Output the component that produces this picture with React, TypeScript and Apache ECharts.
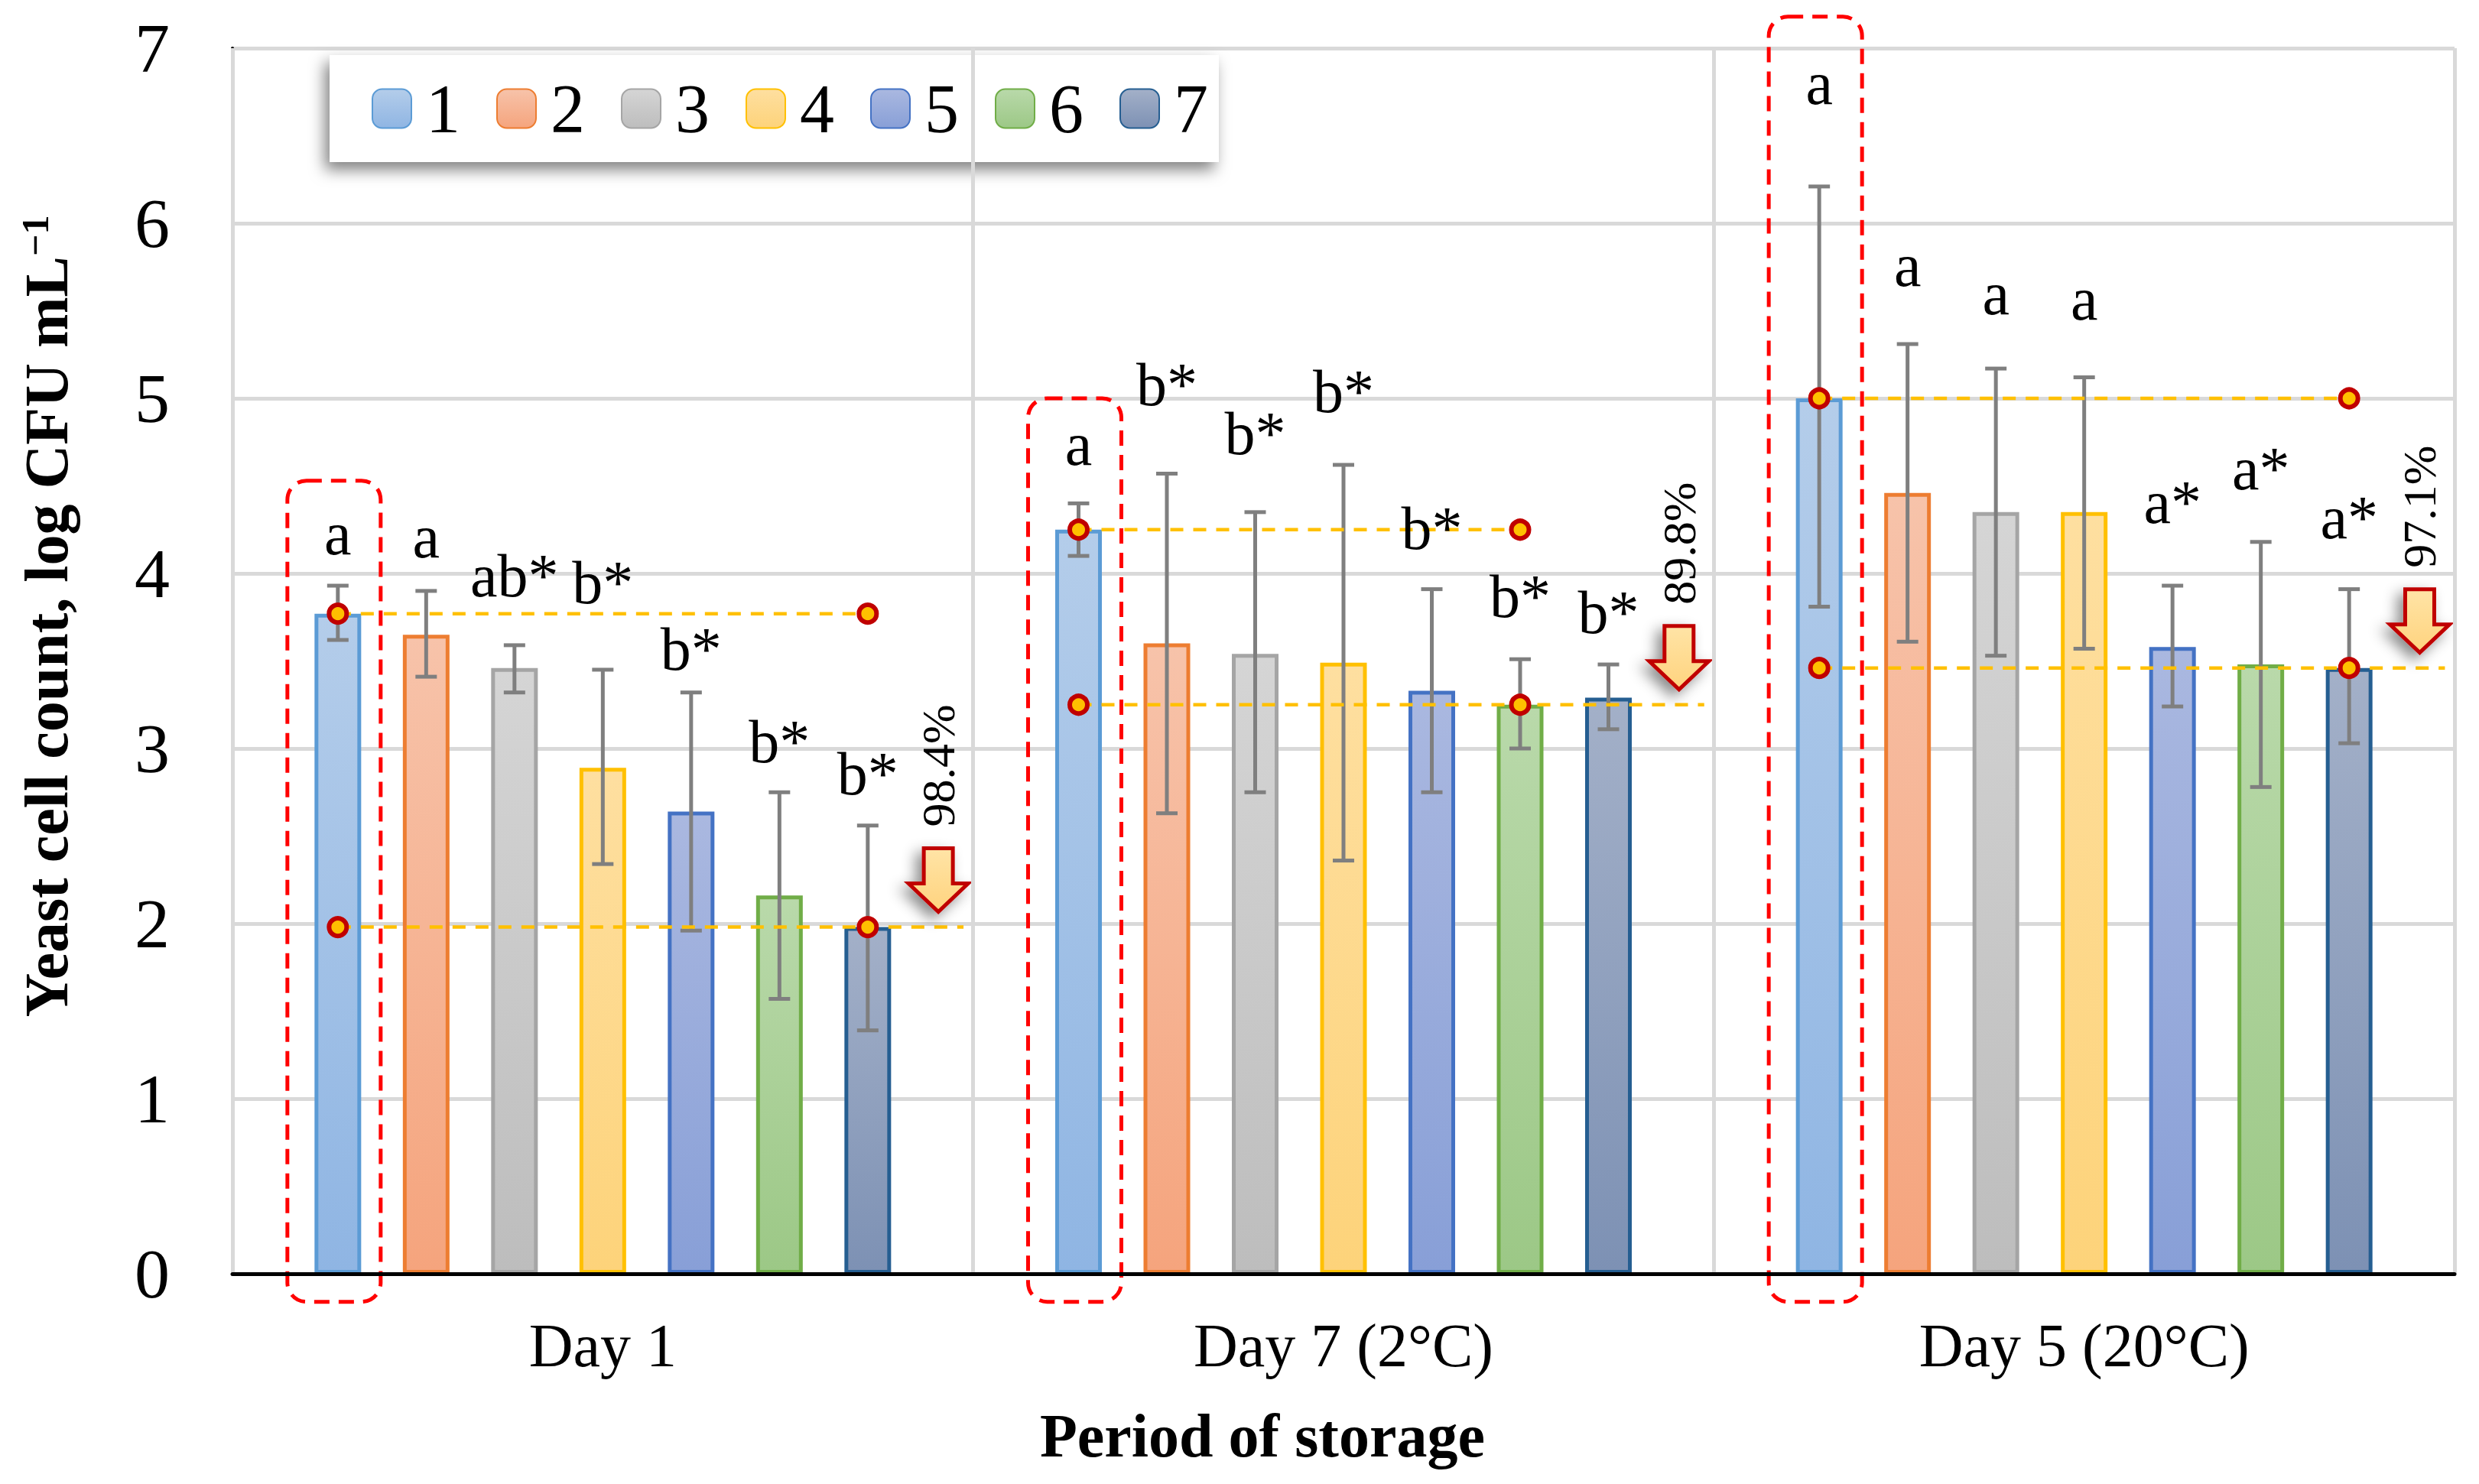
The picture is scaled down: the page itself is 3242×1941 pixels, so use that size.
import React, { useEffect, useRef } from 'react';
import * as echarts from 'echarts';

const FONT = '"Liberation Serif", "Times New Roman", serif';

// ---------- data ----------
const categories = ['Day 1', 'Day 7 (2°C)', 'Day 5 (20°C)'];
const seriesNames = ['1', '2', '3', '4', '5', '6', '7'];

// mean values per series (rows) for each category (columns)
const s1Mean = [3.77, 4.25, 5.0];
const s2Mean = [3.65, 3.6, 4.46];
const s3Mean = [3.46, 3.54, 4.35];
const s4Mean = [2.89, 3.49, 4.35];
const s5Mean = [2.64, 3.33, 3.58];
const s6Mean = [2.16, 3.25, 3.48];
const s7Mean = [1.98, 3.29, 3.46];
const means = [s1Mean, s2Mean, s3Mean, s4Mean, s5Mean, s6Mean, s7Mean];

// error bar lower / upper ends
const errLow = [
  [3.62, 4.1, 3.81],
  [3.41, 2.63, 3.61],
  [3.32, 2.75, 3.53],
  [2.34, 2.36, 3.57],
  [1.96, 2.75, 3.24],
  [1.57, 3.0, 2.78],
  [1.39, 3.11, 3.03],
];
const errHigh = [
  [3.93, 4.4, 6.21],
  [3.9, 4.57, 5.31],
  [3.59, 4.35, 5.17],
  [3.45, 4.62, 5.12],
  [3.32, 3.91, 3.93],
  [2.75, 3.51, 4.18],
  [2.56, 3.48, 3.91],
];

// significance letters and the value at which each letter's baseline sits
const letters = [
  ['a', 'a', 'a'],
  ['a', 'b*', 'a'],
  ['ab*', 'b*', 'a'],
  ['b*', 'b*', 'a'],
  ['b*', 'b*', 'a*'],
  ['b*', 'b*', 'a*'],
  ['b*', 'b*', 'a*'],
];
const letterBase = [
  [4.11, 4.62, 6.68],
  [4.09, 4.96, 5.64],
  [3.87, 4.68, 5.48],
  [3.83, 4.92, 5.45],
  [3.45, 4.14, 4.29],
  [2.92, 3.75, 4.48],
  [2.74, 3.66, 4.2],
];

// reduction labels per category
const reductionLabels = ['98.4%', '89.8%', '97.1%'];
// top of the red dashed highlight boxes around series 1 (log units)
const highlightTop = [4.53, 5.0, 7.18];
const highlightBottom = -0.16;

// ---------- styles ----------
const borderColors = ['#5B9BD5', '#ED7D31', '#A5A5A5', '#FFC000', '#4472C4', '#70AD47', '#255E91'];
const fillTop = ['#B4CDEA', '#F7C3AA', '#D5D5D5', '#FEDFA0', '#AAB8E0', '#B9D9AA', '#A3B0C8'];
const fillBottom = ['#8FB5E3', '#F5A47D', '#BDBDBD', '#FDD37A', '#889FD7', '#9CC886', '#7D91B4'];

const BAR_W = 61;
const BAR_STEP = 115.5;
const LOWER_END_FRAC = 0.487;
const ARROW_FRAC = 0.453;

function argMin(ci: number) {
  let best = 0;
  for (let i = 1; i < means.length; i++) if (means[i][ci] < means[best][ci]) best = i;
  return best;
}

export default function App() {
  const ref = useRef<HTMLDivElement>(null);

  useEffect(() => {
    const chart = echarts.init(ref.current!, null, { renderer: 'svg' });

    const barSeries = seriesNames.map((name, i) => ({
      name,
      type: 'bar',
      data: means[i],
      barWidth: BAR_W,
      barGap: `${((BAR_STEP - BAR_W) / BAR_W) * 100}%`,
      z: 2,
      itemStyle: {
        color: new echarts.graphic.LinearGradient(0, 0, 0, 1, [
          { offset: 0, color: fillTop[i] },
          { offset: 1, color: fillBottom[i] },
        ]),
        borderColor: borderColors[i],
        borderWidth: 5,
      },
    }));

    const errData: number[][] = [];
    const letterData: any[] = [];
    for (let si = 0; si < means.length; si++) {
      for (let ci = 0; ci < categories.length; ci++) {
        errData.push([ci, si, errLow[si][ci], errHigh[si][ci]]);
        letterData.push([ci, si, letterBase[si][ci], letters[si][ci]]);
      }
    }

    const refData = categories.map((_, ci) => {
      const mi = argMin(ci);
      return [ci, means[0][ci], means[mi][ci], mi];
    });

    const boxData = categories.map((_, ci) => [ci, highlightTop[ci], highlightBottom]);

    const option: any = {
      animation: false,
      backgroundColor: '#ffffff',
      grid: { left: 304, right: 32, top: 63, bottom: 275, containLabel: false },
      legend: {
        data: seriesNames,
        left: 431,
        top: 72,
        orient: 'horizontal',
        icon: 'roundRect',
        itemWidth: 51,
        itemHeight: 51,
        itemGap: 47,
        padding: [25, 14, 25, 55],
        backgroundColor: '#ffffff',
        shadowBlur: 20,
        shadowColor: 'rgba(0,0,0,0.5)',
        shadowOffsetX: -6,
        shadowOffsetY: 10,
        textStyle: { fontFamily: FONT, fontSize: 90, color: '#000', padding: [0, 0, 0, 14] },
      },
      xAxis: {
        type: 'category',
        data: categories,
        z: 10,
        axisLine: { show: true, lineStyle: { color: '#000', width: 5 } },
        axisTick: { show: false },
        axisLabel: { fontFamily: FONT, fontSize: 80, color: '#000', margin: 54, interval: 0 },
        splitLine: { show: true, interval: 0, lineStyle: { color: '#D9D9D9', width: 5 } },
      },
      yAxis: {
        type: 'value',
        min: 0,
        max: 7,
        interval: 1,
        axisLine: { show: true, lineStyle: { color: '#000', width: 4 } },
        axisTick: { show: false },
        axisLabel: { fontFamily: FONT, fontSize: 92, color: '#000', margin: 82 },
        splitLine: { show: true, lineStyle: { color: '#D9D9D9', width: 5 } },
      },
      graphic: [
        {
          type: 'text',
          x: 61,
          y: 806,
          rotation: Math.PI / 2,
          style: {
            text: '{m|Yeast cell count, log CFU mL}{s|−1}',
            align: 'center',
            verticalAlign: 'middle',
            textAlign: 'center',
            textVerticalAlign: 'middle',
            rich: {
              m: { fontFamily: FONT, fontSize: 80, fontWeight: 'bold', fill: '#000', color: '#000', lineHeight: 80 },
              s: { fontFamily: FONT, fontSize: 50, fontWeight: 'bold', fill: '#000', color: '#000', verticalAlign: 'top', lineHeight: 50 },
            },
          },
        },
        {
          type: 'text',
          x: 1651,
          y: 1878,
          style: {
            text: 'Period of storage',
            font: `bold 80px ${FONT}`,
            fill: '#000',
            align: 'center',
            verticalAlign: 'middle',
            textAlign: 'center',
            textVerticalAlign: 'middle',
          },
        },
      ],
      series: [
        ...barSeries,
        {
          name: 'errors',
          type: 'custom',
          z: 3,
          encode: { x: 0, y: [2, 3] },
          data: errData,
          renderItem: (params: any, api: any) => {
            const ci = api.value(0);
            const si = api.value(1);
            const lo = api.coord([ci, api.value(2)]);
            const hi = api.coord([ci, api.value(3)]);
            const x = lo[0] + (si - 3) * BAR_STEP;
            const st = { stroke: '#7F7F7F', lineWidth: 5 };
            return {
              type: 'group',
              children: [
                { type: 'line', shape: { x1: x, y1: lo[1], x2: x, y2: hi[1] }, style: st },
                { type: 'line', shape: { x1: x - 14, y1: lo[1], x2: x + 14, y2: lo[1] }, style: st },
                { type: 'line', shape: { x1: x - 14, y1: hi[1], x2: x + 14, y2: hi[1] }, style: st },
              ],
            };
          },
        },
        {
          name: 'reference',
          type: 'custom',
          z: 4,
          encode: { x: 0, y: [1, 2] },
          data: refData,
          renderItem: (params: any, api: any) => {
            const ci = api.value(0);
            const top = api.coord([ci, api.value(1)]);
            const bot = api.coord([ci, api.value(2)]);
            const mi = api.value(3);
            const band = api.size([1, 0])[0];
            const cx = top[0];
            const x1 = cx - 3 * BAR_STEP;
            const xm = cx + (mi - 3) * BAR_STEP;
            const xEnd = cx + LOWER_END_FRAC * band;
            const ax = cx + ARROW_FRAC * band;
            const tipY = bot[1] - 20;
            const arrowTop = tipY - 83;
            const dash = { stroke: '#FFC000', lineWidth: 4.5, lineDash: [17, 13], fill: 'none' };
            const dot = (x: number, y: number) => ({
              type: 'circle',
              shape: { cx: x, cy: y, r: 11.5 },
              style: { fill: '#FFC000', stroke: '#C00000', lineWidth: 6 },
            });
            return {
              type: 'group',
              children: [
                { type: 'line', shape: { x1, y1: top[1], x2: xm, y2: top[1] }, style: dash },
                { type: 'line', shape: { x1, y1: bot[1], x2: xEnd, y2: bot[1] }, style: dash },
                dot(x1, top[1]),
                dot(x1, bot[1]),
                dot(xm, top[1]),
                dot(xm, bot[1]),
                {
                  type: 'polygon',
                  shape: {
                    points: [
                      [ax - 19, arrowTop],
                      [ax + 19, arrowTop],
                      [ax + 19, arrowTop + 46],
                      [ax + 39, arrowTop + 46],
                      [ax, tipY],
                      [ax - 39, arrowTop + 46],
                      [ax - 19, arrowTop + 46],
                    ],
                  },
                  style: {
                    fill: new echarts.graphic.LinearGradient(0, 0, 0, 1, [
                      { offset: 0, color: '#FFE4A6' },
                      { offset: 1, color: '#FFD37E' },
                    ]),
                    stroke: '#C00000',
                    lineWidth: 5,
                    shadowBlur: 18,
                    shadowColor: 'rgba(0,0,0,0.45)',
                    shadowOffsetX: -8,
                    shadowOffsetY: 8,
                  },
                },
                {
                  type: 'text',
                  x: ax,
                  y: arrowTop - 28,
                  rotation: Math.PI / 2,
                  style: {
                    text: reductionLabels[ci],
                    font: `62px ${FONT}`,
                    fill: '#000',
                    align: 'left',
                    verticalAlign: 'middle',
                    textAlign: 'left',
                    textVerticalAlign: 'middle',
                  },
                },
              ],
            };
          },
        },
        {
          name: 'letters',
          type: 'custom',
          z: 5,
          encode: { x: 0, y: 2 },
          data: letterData,
          renderItem: (params: any, api: any) => {
            const ci = api.value(0);
            const si = api.value(1);
            const p = api.coord([ci, api.value(2)]);
            const txt = letterData[params.dataIndex][3];
            return {
              type: 'text',
              x: p[0] + (si - 3) * BAR_STEP,
              y: p[1] - 27,
              style: {
                text: txt,
                font: `80px ${FONT}`,
                fill: '#000',
                align: 'center',
                verticalAlign: 'middle',
                textAlign: 'center',
                textVerticalAlign: 'middle',
              },
            };
          },
        },
        {
          name: 'highlight',
          type: 'custom',
          z: 6,
          clip: false,
          encode: { x: 0, y: [1, 2] },
          data: boxData,
          renderItem: (params: any, api: any) => {
            const ci = api.value(0);
            const t = api.coord([ci, api.value(1)]);
            const b = api.coord([ci, api.value(2)]);
            const cx = t[0] - 3 * BAR_STEP - 5;
            return {
              type: 'rect',
              shape: { x: cx - 61, y: t[1], width: 122, height: b[1] - t[1], r: 25 },
              style: { fill: 'none', stroke: '#FF0000', lineWidth: 5, lineDash: [20, 12] },
            };
          },
        },
      ],
    };

    chart.setOption(option);
    return () => chart.dispose();
  }, []);

  return (
    <div
      ref={ref}
      style={{ position: 'absolute', left: 0, top: 0, width: 3242, height: 1941, background: '#fff' }}
    />
  );
}
